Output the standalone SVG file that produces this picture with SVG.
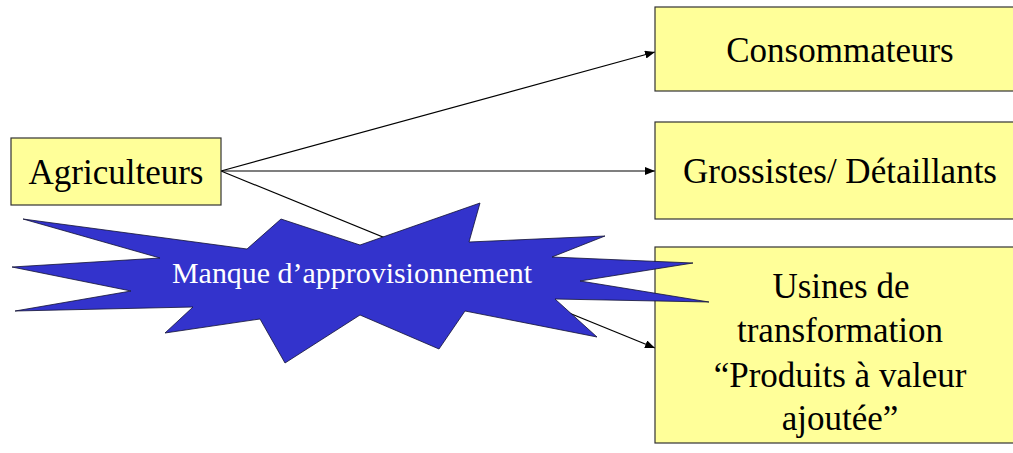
<svg xmlns="http://www.w3.org/2000/svg" width="1013" height="453" viewBox="0 0 1013 453">
  <style>
    .box { fill: #FFFF99; stroke: #333333; stroke-width: 1.2; }
    .lbl { font-family: "Liberation Serif", "Times New Roman", serif; font-size: 35px; fill: #000000; text-anchor: middle; }
    .edge { stroke: #000000; stroke-width: 1.2; fill: none; marker-end: url(#arrow); }
    .burst { fill: #3333CC; stroke: #111133; stroke-width: 0.8; stroke-linejoin: miter; }
    .burst-lbl { font-family: "Liberation Serif", "Times New Roman", serif; font-size: 29px; fill: #FFFFFF; text-anchor: middle; }
  </style>
  <defs>
    <marker id="arrow" viewBox="0 0 10 8" refX="10" refY="4" markerWidth="10" markerHeight="8" markerUnits="userSpaceOnUse" orient="auto">
      <path d="M0,0 L10,4 L0,8 Z" fill="#000000"/>
    </marker>
  </defs>
  <rect width="1013" height="453" fill="#FFFFFF"/>

  <!-- connectors from the farmers to each outlet -->
  <g id="connectors">
    <line class="edge" x1="221" y1="171" x2="655" y2="52"/>
    <line class="edge" x1="221" y1="171" x2="655" y2="171"/>
    <line class="edge" x1="221" y1="171" x2="655" y2="348"/>
  </g>

  <g id="agriculteurs">
    <rect class="box" x="11" y="138" width="210" height="67"/>
    <text class="lbl" x="116" y="184">Agriculteurs</text>
  </g>

  <g id="consommateurs">
    <rect class="box" x="655" y="7" width="370" height="84"/>
    <text class="lbl" x="840" y="62">Consommateurs</text>
  </g>

  <g id="grossistes">
    <rect class="box" x="655" y="122" width="370" height="97"/>
    <text class="lbl" x="840" y="183">Grossistes/ Détaillants</text>
  </g>

  <g id="usines">
    <rect class="box" x="655" y="247" width="370" height="196"/>
    <text class="lbl" x="841" y="298">Usines  de</text>
    <text class="lbl" x="840" y="342">transformation</text>
    <text class="lbl" x="840" y="387">“Produits à valeur</text>
    <text class="lbl" x="840" y="430">ajoutée”</text>
  </g>

  <!-- explosion shape: supply shortage -->
  <g id="manque">
    <polygon class="burst" points="23,219 247,249 281,219 360,245 480,203 469,242 605,236 552,257 693,263 580,281 709,302 555,299 597,337 465,311 439,349 360,315 285,363 260,319 165,333 193,307 15,311 131,291 12,267 160,258"/>
    <text class="burst-lbl" x="352" y="283" textLength="360" lengthAdjust="spacingAndGlyphs">Manque d’approvisionnement</text>
  </g>
</svg>
